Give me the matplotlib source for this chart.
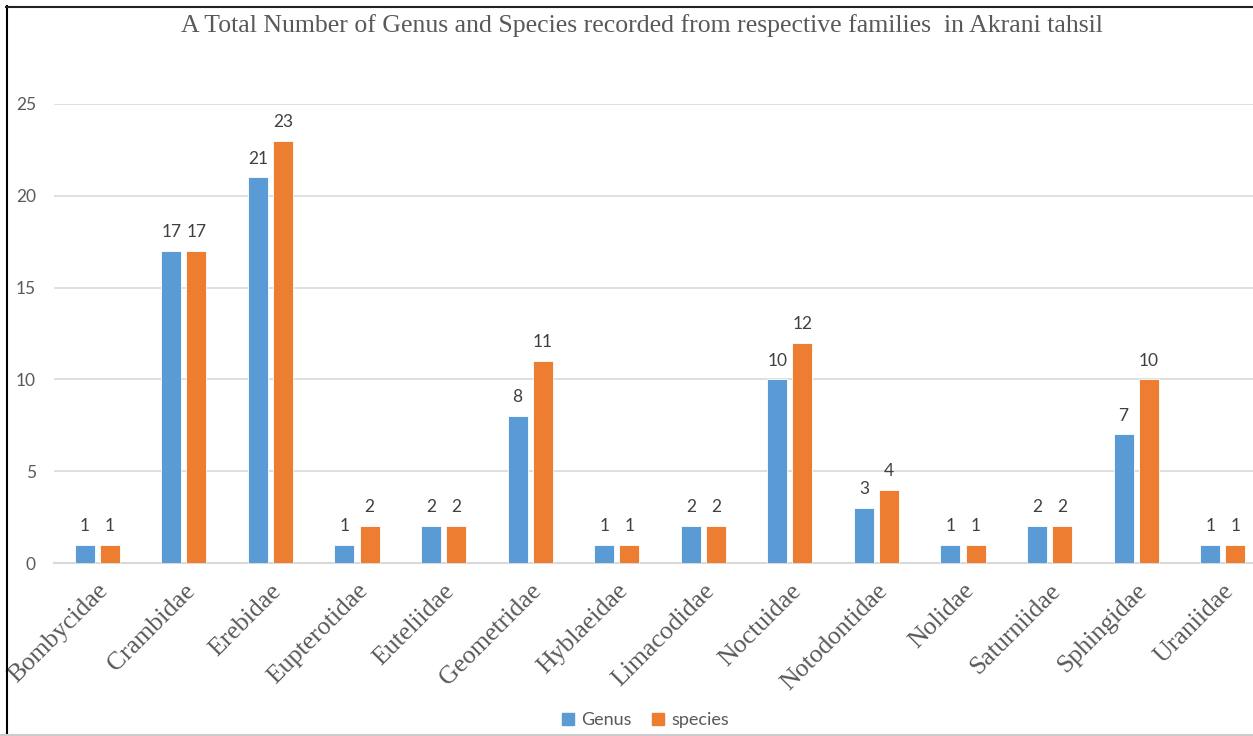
import numpy as np
import matplotlib
matplotlib.use("Agg")
import matplotlib.pyplot as plt
from matplotlib.lines import Line2D

families = ["Bombycidae", "Crambidae", "Erebidae", "Eupterotidae", "Euteliidae",
            "Geometridae", "Hyblaeidae", "Limacodidae", "Noctuidae", "Notodontidae",
            "Nolidae", "Saturniidae", "Sphingidae", "Uraniidae"]
genus = [1, 17, 21, 1, 2, 8, 1, 2, 10, 3, 1, 2, 7, 1]
species = [1, 17, 23, 2, 2, 11, 1, 2, 12, 4, 1, 2, 10, 1]

blue = "#5B9BD5"
orange = "#ED7D31"
grey_txt = "#595959"
sans = ["Lato", "DejaVu Sans"]
serif = ["Liberation Serif", "DejaVu Serif"]

W, H = 1253, 736
fig = plt.figure(figsize=(W / 100, H / 100), dpi=100)

# plot area in pixels: left 54, right ~1266, y0 at 563, y25 at 104
left, right, top, bottom = 54, 1266, 104, 563
ax = fig.add_axes([left / W, 1 - bottom / H, (right - left) / W, (bottom - top) / H])

x = np.arange(len(families))
bw = 0.23
b1 = ax.bar(x - 0.145, genus, bw, color=blue, edgecolor="white", linewidth=0.6, zorder=3)
b2 = ax.bar(x + 0.145, species, bw, color=orange, edgecolor="white", linewidth=0.6, zorder=3)

for bars, vals in ((b1, genus), (b2, species)):
    for r, v in zip(bars, vals):
        ax.annotate(str(v), (r.get_x() + r.get_width() / 2, v), xytext=(0, 10),
                    textcoords="offset points", ha="center", va="baseline",
                    fontsize=12.5, color="#404040", family=sans)

ax.set_xlim(-0.5, len(families) - 0.5)
ax.set_ylim(0, 25)
ax.set_yticks(range(0, 26, 5))
ax.grid(axis="y", color="#d9d9d9", linewidth=1.2, zorder=0)
for s in ["top", "right", "left"]:
    ax.spines[s].set_visible(False)
ax.spines["bottom"].set_color("#d9d9d9")
ax.spines["bottom"].set_linewidth(1.5)
ax.tick_params(axis="both", length=0)
ax.tick_params(axis="y", pad=13, labelsize=12.5, labelcolor=grey_txt)
for t in ax.get_yticklabels():
    t.set_family(sans)

ax.set_xticks(x)
ax.set_xticklabels(families, rotation=45, ha="right", rotation_mode="anchor",
                   fontsize=18.5, color=grey_txt, family=serif)
ax.tick_params(axis="x", pad=12)

fig.text(0.512, 1 - 26 / H, "A Total Number of Genus and Species recorded from respective families  in Akrani tahsil",
         ha="center", va="center", fontsize=18.5, color=grey_txt, family=serif)

handles = [Line2D([0], [0], marker="s", color="none", markerfacecolor=blue, markeredgecolor=blue, markersize=8.5),
           Line2D([0], [0], marker="s", color="none", markerfacecolor=orange, markeredgecolor=orange, markersize=8.5)]
fig.legend(handles, ["Genus", "species"], loc="center", bbox_to_anchor=(644 / W, 1 - 720 / H), ncol=2,
           frameon=False, prop={"family": sans, "size": 13}, labelcolor=grey_txt,
           handletextpad=0.2, columnspacing=1.0, handlelength=1.0)

# outer frame: black on left and top, grey at bottom
fig.add_artist(Line2D([6.5 / W, 6.5 / W], [0, 1 - 6 / H], color="black", linewidth=1.5))
fig.add_artist(Line2D([6 / W, 1], [1 - 7 / H, 1 - 7 / H], color="#222222", linewidth=1.5))
fig.add_artist(Line2D([0, 1], [1 - 735 / H, 1 - 735 / H], color="#cccccc", linewidth=1.5))

fig.savefig("out.png", dpi=100)
